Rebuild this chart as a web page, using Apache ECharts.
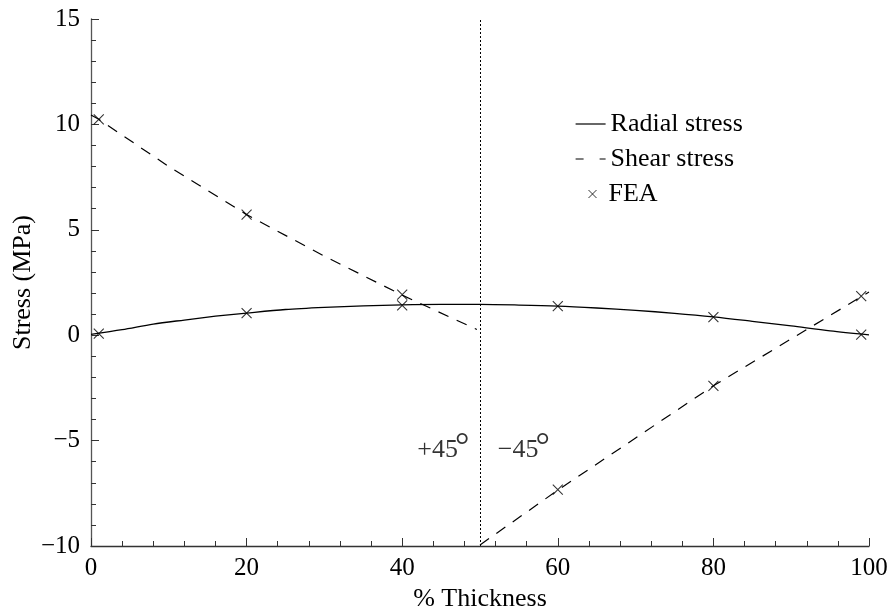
<!DOCTYPE html>
<html>
<head>
<meta charset="utf-8">
<script src="https://cdn.jsdelivr.net/npm/echarts@6/dist/echarts.min.js"></script>
<style>
  html, body { margin: 0; padding: 0; background: #fff; }
  #chart { width: 891px; height: 615px; }
</style>
</head>
<body>
<div id="chart"></div>
<script>
// Through-thickness stress distribution
const thickness    = [0, 4, 8, 12, 16, 20, 25, 30, 35, 40, 45, 50, 55, 60, 65, 70, 75, 80, 85, 90, 95, 100];
const radialStress = [0.04, 0.26, 0.53, 0.72, 0.9, 1.05, 1.22, 1.32, 1.39, 1.44, 1.46, 1.46, 1.43, 1.38, 1.29, 1.18, 1.04, 0.87, 0.66, 0.44, 0.21, 0.02];

// shear stress: +45° ply (left half) and -45° ply (right half)
const shearPlusX   = [0, 1, 10, 20, 30, 40, 49.6];
const shearPlus    = [10.45, 10.24, 8.0, 5.72, 3.75, 1.9, 0.27];
const shearMinusX  = [50, 60, 80, 100];
const shearMinus   = [-9.95, -7.35, -2.4, 2.05];

// finite element results
const feaX = [1, 20, 40, 60, 80, 99, 1, 20, 40, 60, 80, 99];
const feaY = [0.07, 1.05, 1.42, 1.38, 0.86, 0.03, 10.24, 5.72, 1.92, -7.33, -2.4, 1.85];

// ply boundary and ply angle annotations
const plyBoundary = 50;
const plyLabels   = ['+45', '\u221245'];
const plyLabelX   = [45.35, 55.7];
const plyLabelY   = [-5.5, -5.5];

const xTicks = { min: 0, max: 100, interval: 20 };
const yTicks = { min: -10, max: 15, interval: 5 };

const FONT = 'Liberation Serif';
const INK = '#000';

const pairs = (xs, ys) => xs.map((x, i) => [x, ys[i]]);
const minus = v => (v < 0 ? '\u2212' + Math.abs(v) : String(v));

const shearData = pairs(shearPlusX, shearPlus)
  .concat([[plyBoundary, '-']])
  .concat(pairs(shearMinusX, shearMinus));

const crossPath = 'path://M0,0L10,10M10,0L0,10';
const hiddenSymbol = { color: 'transparent', borderColor: 'transparent', borderWidth: 0 };

const chart = echarts.init(document.getElementById('chart'), null, { renderer: 'canvas' });

chart.setOption({
  animation: false,
  backgroundColor: '#fff',
  textStyle: { fontFamily: FONT, color: INK },
  grid: { left: 91, right: 22, top: 19, bottom: 69, containLabel: false, outerBoundsMode: 'none' },
  xAxis: {
    type: 'value',
    min: xTicks.min, max: xTicks.max, interval: xTicks.interval,
    name: '% Thickness',
    nameLocation: 'middle',
    nameGap: 40,
    nameMoveOverlap: false,
    nameTextStyle: { fontFamily: FONT, fontSize: 26, color: INK },
    axisLine: { show: true, onZero: false, lineStyle: { color: '#333', width: 1.3 } },
    axisTick: { show: true, inside: true, length: 8, lineStyle: { color: '#333' } },
    minorTick: { show: true, splitNumber: 5, length: 5, lineStyle: { color: '#333' } },
    axisLabel: { fontFamily: FONT, fontSize: 25, color: INK, margin: 10 },
    splitLine: { show: false }
  },
  yAxis: {
    type: 'value',
    min: yTicks.min, max: yTicks.max, interval: yTicks.interval,
    name: 'Stress (MPa)',
    nameLocation: 'middle',
    nameGap: 55,
    nameMoveOverlap: false,
    nameTextStyle: { fontFamily: FONT, fontSize: 26, color: INK },
    axisLine: { show: true, onZero: false, lineStyle: { color: '#555', width: 1.3 } },
    axisTick: { show: true, inside: true, length: 8, lineStyle: { color: '#333' } },
    minorTick: { show: true, splitNumber: 5, length: 5, lineStyle: { color: '#333' } },
    axisLabel: { fontFamily: FONT, fontSize: 25, color: INK, margin: 11, formatter: minus },
    splitLine: { show: false }
  },
  legend: [
    {
      orient: 'vertical',
      left: 575, top: 111,
      padding: 0,
      itemWidth: 30, itemHeight: 14, itemGap: 9,
      textStyle: { fontFamily: FONT, fontSize: 26, color: INK },
      data: [
        { name: 'Radial stress', itemStyle: hiddenSymbol, lineStyle: { type: 'solid', width: 1.2, color: INK } },
        { name: 'Shear stress', itemStyle: hiddenSymbol, lineStyle: { type: [8, 16], width: 1.2, color: INK } }
      ]
    },
    {
      orient: 'vertical',
      left: 588, top: 181,
      padding: 0,
      itemWidth: 8, itemHeight: 8,
      textStyle: { fontFamily: FONT, fontSize: 26, color: INK, padding: [0, 0, 0, 7] },
      data: [
        { name: 'FEA', icon: crossPath, itemStyle: { color: 'transparent', borderColor: INK, borderWidth: 1 } }
      ]
    }
  ],
  series: [
    {
      name: 'Radial stress',
      type: 'line',
      data: pairs(thickness, radialStress),
      smooth: 0.3,
      showSymbol: false,
      symbol: 'none',
      lineStyle: { color: INK, width: 1.3, type: 'solid' },
      itemStyle: { color: INK },
      markLine: {
        silent: true,
        symbol: 'none',
        label: { show: false },
        lineStyle: { color: INK, width: 1, type: [2, 2] },
        data: [{ xAxis: plyBoundary }]
      },
      z: 3
    },
    {
      name: 'Shear stress',
      type: 'line',
      data: shearData,
      connectNulls: false,
      showSymbol: false,
      symbol: 'none',
      lineStyle: { color: INK, width: 1.2, type: [11, 9] },
      itemStyle: { color: INK },
      z: 3
    },
    {
      name: 'FEA',
      type: 'scatter',
      data: pairs(feaX, feaY),
      symbol: crossPath,
      symbolSize: 10,
      itemStyle: { color: 'transparent', borderColor: INK, borderWidth: 1.1 },
      z: 4
    },
    {
      name: 'ply angle',
      type: 'scatter',
      data: pairs(plyLabelX, plyLabelY).map((p, i) => ({ value: p, text: plyLabels[i] })),
      symbolSize: 1,
      itemStyle: { color: 'transparent' },
      silent: true,
      label: {
        show: true,
        position: [0, 0],
        align: 'center',
        verticalAlign: 'middle',
        formatter: p => p.data.text + '{deg|\u00b0}',
        fontFamily: FONT,
        fontSize: 26,
        color: INK,
        textBorderWidth: 0,
        rich: {
          deg: { fontFamily: FONT, fontSize: 36, color: INK, verticalAlign: 'top', padding: [0, 0, 6, -3] }
        }
      },
      z: 5
    }
  ]
});
</script>
</body>
</html>
